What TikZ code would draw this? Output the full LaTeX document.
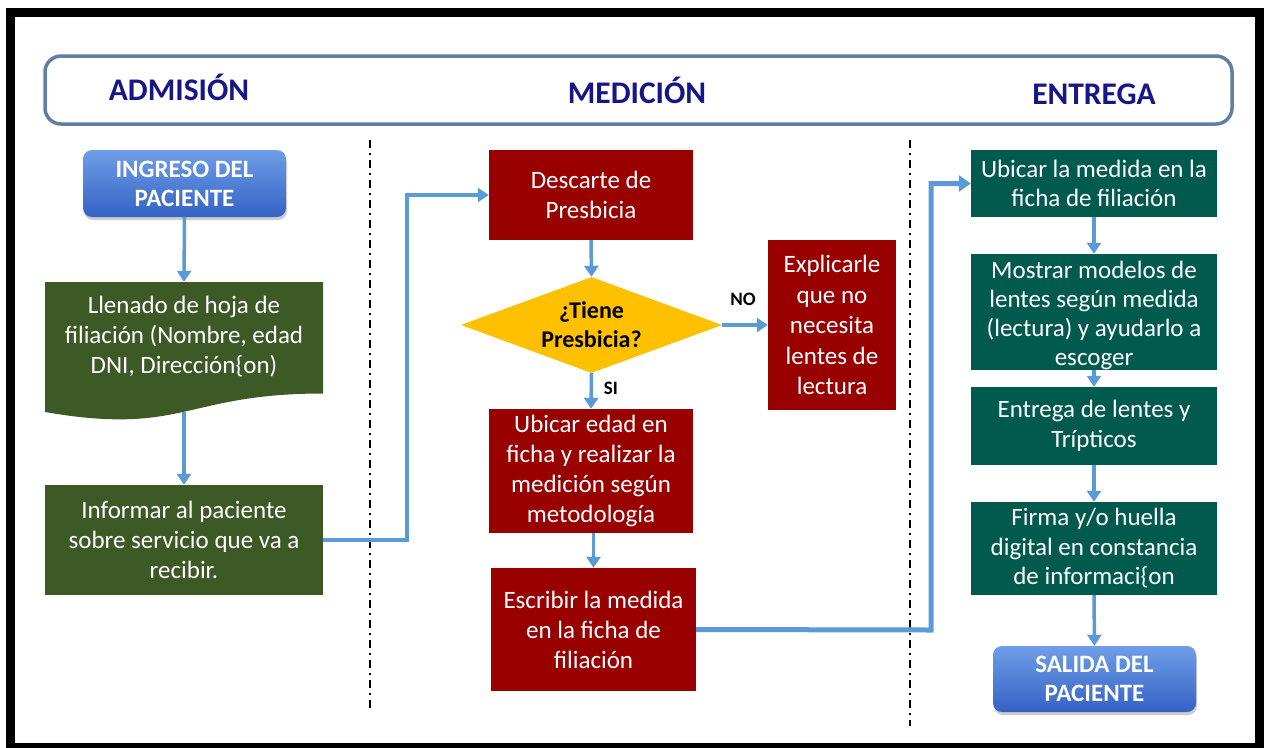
\documentclass[tikz,border=0pt]{standalone}
\usepackage{fontspec}
\setmainfont{Carlito}
\usetikzlibrary{arrows.meta,shapes.geometric,shadows}
\definecolor{ttl}{RGB}{22,22,135}
\definecolor{hdrline}{RGB}{95,128,162}
\definecolor{arrblue}{RGB}{91,155,213}
\definecolor{olive}{RGB}{61,89,38}
\definecolor{dred}{RGB}{153,0,0}
\definecolor{teal2}{RGB}{0,90,78}
\definecolor{gold}{RGB}{255,192,0}
\definecolor{btop}{RGB}{112,158,232}
\definecolor{bbot}{RGB}{52,98,196}
\begin{document}
\begin{tikzpicture}[x=1pt,y=-1pt,
  boxtxt/.style={text=white,align=center,font=\fontsize{25}{30}\selectfont},
  procbox/.style={boxtxt,inner sep=0pt},
  greenbox/.style={procbox,fill=olive},
  redbox/.style={procbox,fill=dred},
  tealbox/.style={procbox,fill=teal2,font=\fontsize{25}{29.5}\selectfont},
  button/.style={rounded corners=9pt,top color=btop,bottom color=bbot,
     draw=none,inner sep=0pt,text=white,align=center,
     font=\bfseries\fontsize{25}{29}\selectfont,
     drop shadow={shadow xshift=1pt,shadow yshift=-3pt,opacity=0.4}},
  title/.style={text=ttl,font=\bfseries\fontsize{31.5}{36}\selectfont,anchor=base,inner sep=0pt},
  lbl/.style={font=\bfseries\fontsize{19}{22}\selectfont,inner sep=0pt},
  arr/.style={draw=arrblue,line width=3.5pt,-{Triangle[width=14pt,length=11pt]}},
  arrthick/.style={arr,line width=5pt,-{Triangle[width=16pt,length=12pt]}},
  sep/.style={line width=2pt,dash pattern=on 8pt off 5pt on 2pt off 5pt}
]
\useasboundingbox (0,0) rectangle (1268,747);
\fill[white] (0,0) rectangle (1268,747);
\draw[line width=9pt] (10,12) rectangle (1259.5,747.5);

% header
\node[draw=hdrline,line width=3.5pt,rounded corners=16pt,fill=white,
      minimum width=1187pt,minimum height=68pt] (header) at (638.5,90) {};
\node[title] (tadm) at (179,100) {ADMISIÓN};
\node[title] (tmed) at (637,103) {MEDICIÓN};
\node[title] (tent) at (1094,104) {ENTREGA};

% separators
\draw[sep] (370,140) -- (370,712);
\draw[sep] (910,140) -- (910,726);

% ADMISION column
\node[button,minimum width=203pt,minimum height=67pt] (ingreso) at (184.5,183.5) {INGRESO DEL\\PACIENTE};
\fill[olive] (45,282) -- (323,282) -- (323,393.5) .. controls (184,393.5) and (184,436) .. (45,412) -- cycle;
\node[procbox,minimum width=278pt,minimum height=110pt] (llenado) at (184,337)
  {Llenado de hoja de\\filiación (Nombre, edad\\DNI, Dirección\{on)};
\coordinate (llenadoWave) at (184,412);
\node[greenbox,minimum width=278pt,minimum height=110pt] (informar) at (184,540)
  {Informar al paciente\\sobre servicio que va a\\recibir.};

% MEDICION column
\node[redbox,minimum width=204pt,minimum height=90pt] (descarte) at (591,195) {Descarte de\\Presbicia};
\node[shape=diamond,fill=gold,inner sep=0pt,minimum width=261pt,minimum height=96pt,
      label={[font=\bfseries\fontsize{24}{29}\selectfont,align=center,inner sep=0pt]center:¿Tiene\\Presbicia?}]
      (tiene) at (591.5,325) {};
\node[redbox,minimum width=128pt,minimum height=170pt,font=\fontsize{25}{30.5}\selectfont] (explicar) at (832,325)
  {Explicarle\\que no\\necesita\\lentes de\\lectura};
\node[redbox,minimum width=204pt,minimum height=124pt] (ubicaredad) at (591,471)
  {Ubicar edad en\\ficha y realizar la\\medición según\\metodología};
\node[redbox,minimum width=205pt,minimum height=123pt] (escribir) at (593.5,629.5)
  {Escribir la medida\\en la ficha de\\filiación};

% ENTREGA column
\node[tealbox,minimum width=246pt,minimum height=67pt] (ubicarmed) at (1094,183.5)
  {Ubicar la medida en la\\ficha de filiación};
\node[tealbox,minimum width=246pt,minimum height=116pt] (mostrar) at (1094,312) {};
\node[boxtxt,font=\fontsize{25}{29}\selectfont,inner sep=0pt] (mostrartxt) at (1094,315)
  {Mostrar modelos de\\lentes según medida\\(lectura) y ayudarlo a\\escoger};
\node[tealbox,minimum width=246pt,minimum height=78pt] (entrega) at (1094,426)
  {Entrega de lentes y\\Trípticos};
\node[tealbox,minimum width=246pt,minimum height=93pt] (firma) at (1094,548.5)
  {Firma y/o huella\\digital en constancia\\de informaci\{on};
\node[button,minimum width=203pt,minimum height=66pt] (salida) at (1094.5,679) {SALIDA DEL\\PACIENTE};

% connectors
\draw[arr] (ingreso.south) -- (llenado.north);
\draw[arr] (llenadoWave) -- (informar.north);
\draw[arr] (informar.east) -- (407,540) |- (descarte.west);
\draw[arr] (descarte.south) -- (tiene.north);
\draw[arr] (tiene.east) -- (explicar.west);
\node[lbl] (no) at (743,299) {NO};
\draw[arr] (tiene.south) -- (ubicaredad.north);
\node[lbl] (si) at (611,388) {SI};
\draw[arr] (ubicaredad.south -| escribir.north) -- (escribir.north);
\draw[arrthick] (escribir.east) -- (931,630) |- (ubicarmed.west);
\draw[arr] (ubicarmed.south) -- (mostrar.north);
\draw[arr] (mostrar.south) -- (entrega.north);
\draw[arr] (entrega.south) -- (firma.north);
\draw[arr] (firma.south) -- (salida.north);
\end{tikzpicture}
\end{document}
